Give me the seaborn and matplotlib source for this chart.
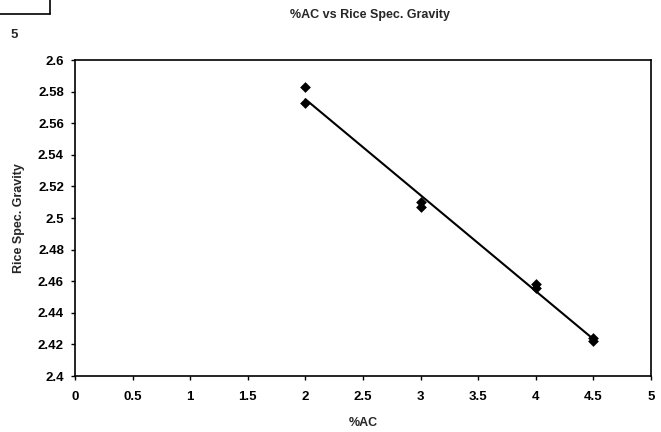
import numpy as np
import pandas as pd
import matplotlib
matplotlib.use("Agg")
import matplotlib.pyplot as plt
import seaborn as sns

# Measurements: asphalt content (%) vs rice specific gravity
ac_pct = [2.0, 2.0, 3.0, 3.0, 4.0, 4.0, 4.5, 4.5]
rice_sg = [2.583, 2.573, 2.510, 2.507, 2.458, 2.456, 2.424, 2.422]

x_ticks = [0, 0.5, 1, 1.5, 2, 2.5, 3, 3.5, 4, 4.5, 5]
y_ticks = [2.4, 2.42, 2.44, 2.46, 2.48, 2.5, 2.52, 2.54, 2.56, 2.58, 2.6]

df = pd.DataFrame({"ac": ac_pct, "sg": rice_sg})

sns.set_style("white")
plt.rcParams["font.family"] = ["Liberation Sans", "DejaVu Sans"]
plt.rcParams["font.weight"] = "bold"

fig = plt.figure(figsize=(6.61, 4.32), dpi=100)
ax = fig.add_axes([0.1135, 0.1296, 0.8715, 0.7315])

# Linear trendline over the measured range
coef = np.polyfit(df["ac"], df["sg"], 1)
xs = np.array([df["ac"].min(), df["ac"].max()])
ax.plot(xs, np.polyval(coef, xs), color="black", lw=1.5, zorder=2)

sns.scatterplot(data=df, x="ac", y="sg", marker="D", s=30, color="black",
                edgecolor="black", linewidth=0, ax=ax, zorder=3)

ax.set_xlim(0, 5)
ax.set_ylim(2.4, 2.6)
ax.set_xticks(x_ticks)
ax.set_xticklabels([f"{v:g}" for v in x_ticks])
ax.set_yticks(y_ticks)
ax.set_yticklabels([f"{v:g}" for v in y_ticks])
ax.tick_params(axis="both", direction="out", length=3, width=1,
               labelsize=9.5, colors="black", pad=5)
ax.tick_params(axis="x", pad=8)
ax.tick_params(axis="both", bottom=True, left=True)
for side in ax.spines.values():
    side.set_color("black")
    side.set_linewidth(1.2)

ax.set_xlabel("%AC", fontsize=9, fontweight="bold", labelpad=10)
ax.set_ylabel("Rice Spec. Gravity", fontsize=9, fontweight="bold", labelpad=9)
fig.text(0.56, 1 - 15 / 432, "%AC vs Rice Spec. Gravity", ha="center",
         va="center", fontsize=9, fontweight="bold")

# Page fragment in the corner
fig.add_artist(plt.Line2D([0, 50 / 661], [1 - 14 / 432, 1 - 14 / 432],
                          color="black", lw=1.2))
fig.add_artist(plt.Line2D([50 / 661, 50 / 661], [1, 1 - 14 / 432],
                          color="black", lw=1.2))
fig.text(14 / 661, 1 - 35 / 432, "5", ha="center", va="center",
         fontsize=9.5, fontweight="bold")

fig.savefig("out.png", dpi=100)
